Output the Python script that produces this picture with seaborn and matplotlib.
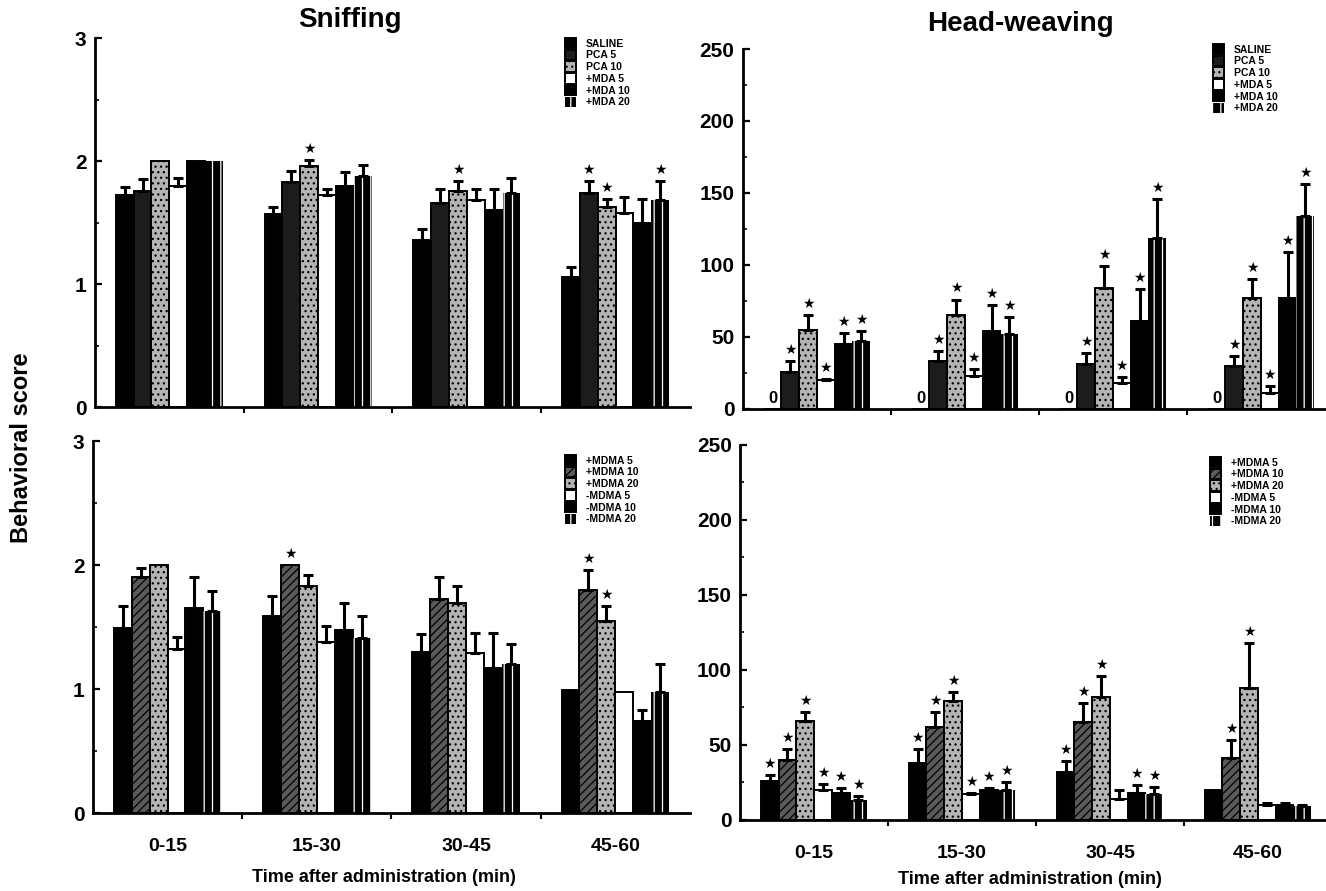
import numpy as np
import pandas as pd
import matplotlib.pyplot as plt
import seaborn as sns
from matplotlib.ticker import MultipleLocator, FixedLocator

time_bins = ["0-15", "15-30", "30-45", "45-60"]
top_groups = ["SALINE", "PCA 5", "PCA 10", "+MDA 5", "+MDA 10", "+MDA 20"]
bottom_groups = ["+MDMA 5", "+MDMA 10", "+MDMA 20", "-MDMA 5", "-MDMA 10", "-MDMA 20"]

# rows = treatment group, columns = time bin
sniff_top = [[1.72, 1.57, 1.36, 1.06],
             [1.76, 1.83, 1.66, 1.74],
             [2.00, 1.96, 1.76, 1.63],
             [1.80, 1.72, 1.68, 1.58],
             [2.00, 1.80, 1.60, 1.50],
             [2.00, 1.88, 1.74, 1.68]]
sniff_top_err = [[0.07, 0.06, 0.09, 0.08],
                 [0.09, 0.09, 0.11, 0.10],
                 [0.00, 0.05, 0.08, 0.06],
                 [0.06, 0.05, 0.09, 0.13],
                 [0.00, 0.11, 0.17, 0.19],
                 [0.00, 0.09, 0.12, 0.16]]
sniff_top_star = [[0, 0, 0, 0],
                  [0, 0, 0, 1],
                  [0, 1, 1, 1],
                  [0, 0, 0, 0],
                  [0, 0, 0, 0],
                  [0, 0, 0, 1]]

head_top = [[0, 0, 0, 0],
            [26, 33, 31, 30],
            [55, 65, 84, 77],
            [20, 23, 18, 11],
            [45, 54, 61, 77],
            [47, 52, 119, 134]]
head_top_err = [[0, 0, 0, 0],
                [7, 7, 8, 7],
                [10, 11, 15, 13],
                [1, 5, 4, 5],
                [8, 18, 22, 32],
                [7, 12, 27, 22]]
head_top_star = [[0, 0, 0, 0],
                 [1, 1, 1, 1],
                 [1, 1, 1, 1],
                 [1, 1, 1, 1],
                 [1, 1, 1, 1],
                 [1, 1, 1, 1]]

sniff_bot = [[1.49, 1.59, 1.30, 0.99],
             [1.90, 2.00, 1.73, 1.80],
             [2.00, 1.83, 1.69, 1.55],
             [1.32, 1.38, 1.29, 0.98],
             [1.65, 1.48, 1.17, 0.74],
             [1.63, 1.41, 1.20, 0.98]]
sniff_bot_err = [[0.18, 0.16, 0.14, 0.00],
                 [0.08, 0.00, 0.17, 0.16],
                 [0.00, 0.09, 0.14, 0.12],
                 [0.10, 0.13, 0.16, 0.00],
                 [0.25, 0.21, 0.28, 0.09],
                 [0.16, 0.18, 0.16, 0.22]]
sniff_bot_star = [[0, 0, 0, 0],
                  [0, 1, 0, 1],
                  [0, 0, 0, 1],
                  [0, 0, 0, 0],
                  [0, 0, 0, 0],
                  [0, 0, 0, 0]]

head_bot = [[26, 38, 32, 20],
            [40, 62, 65, 41],
            [66, 79, 82, 88],
            [20, 17, 14, 10],
            [18, 20, 18, 10],
            [13, 20, 17, 9]]
head_bot_err = [[4, 9, 7, 0],
                [7, 10, 13, 12],
                [6, 6, 14, 30],
                [4, 1, 6, 1],
                [3, 1, 5, 1],
                [3, 5, 5, 1]]
head_bot_star = [[1, 1, 1, 0],
                 [1, 1, 1, 1],
                 [1, 1, 1, 1],
                 [1, 1, 0, 0],
                 [1, 1, 1, 0],
                 [1, 1, 1, 0]]

sns.set_style("ticks")
plt.rcParams['font.family'] = ['Liberation Sans', 'DejaVu Sans']
plt.rcParams['font.weight'] = 'bold'
plt.rcParams['hatch.linewidth'] = 0.9
for k in ['text.color', 'axes.labelcolor', 'xtick.color', 'ytick.color', 'axes.edgecolor']:
    plt.rcParams[k] = 'black'

# bar looks for the six bar positions
top_styles = [dict(fc="black"), dict(fc="#1c1c1c"), dict(fc="#b4b4b4", hatch="..."),
              dict(fc="white"), dict(fc="black"), dict(fc="black", hatch="||", ec="white")]
bot_styles = [dict(fc="black"), dict(fc="#5a5a5a", hatch="////"), dict(fc="#b4b4b4", hatch="..."),
              dict(fc="white"), dict(fc="black"), dict(fc="black", hatch="||", ec="white")]


def draw_panel(ax, groups, means, errs, stars, styles, ymax, ystep, xmax, zeros=False):
    rows = []
    for g, vals in zip(groups, means):
        for t, v in zip(time_bins, vals):
            rows.append({"time": t, "group": g, "score": v})
    df = pd.DataFrame(rows)
    sns.barplot(data=df, x="time", y="score", hue="group", order=time_bins, hue_order=groups,
                palette=[s["fc"] for s in styles], saturation=1, width=0.72, errorbar=None,
                edgecolor="black", linewidth=1.4, legend=False, ax=ax)
    bar_conts = list(ax.containers)
    handles = [c.patches[0] for c in bar_conts]
    for cont, st, vals, err, star in zip(bar_conts, styles, means, errs, stars):
        for bar, v, e, s in zip(cont.patches, vals, err, star):
            if st.get("hatch"):
                bar.set_hatch(st["hatch"])
            if st.get("ec"):
                bar.set_edgecolor(st["ec"])
                bar.set_linewidth(0)
            xc = bar.get_x() + bar.get_width() / 2
            if e > 0:
                ax.errorbar([xc], [v], yerr=[[0], [e]], fmt="none", ecolor="black",
                            elinewidth=2.2, capsize=3.5, capthick=2.2, zorder=4)
            if s:
                ax.annotate("★", (xc, v + e), xytext=(0, 3), textcoords="offset points",
                            ha="center", va="bottom", fontsize=10, family="DejaVu Sans")
            if zeros and v == 0:
                ax.annotate("0", (xc, 0), xytext=(0, 2), textcoords="offset points",
                            ha="center", va="bottom", fontsize=12, fontweight="bold")
    ax.set_xlim(-0.5, xmax)
    ax.set_ylim(0, ymax)
    ax.yaxis.set_major_locator(MultipleLocator(ystep))
    ax.yaxis.set_minor_locator(MultipleLocator(ystep / 2))
    ax.xaxis.set_minor_locator(FixedLocator([0.5, 1.5, 2.5]))
    ax.tick_params(axis="y", which="major", direction="in", length=5, width=1.6,
                   labelsize=15, pad=6)
    ax.tick_params(axis="y", which="minor", direction="in", length=3, width=1.2)
    ax.tick_params(axis="x", which="major", length=0, labelsize=14, pad=18)
    ax.tick_params(axis="x", which="minor", direction="out", length=4, width=1.5)
    for lbl in ax.get_yticklabels() + ax.get_xticklabels():
        lbl.set_fontweight("bold")
    for sp in ["top", "right"]:
        ax.spines[sp].set_visible(False)
    for sp in ["left", "bottom"]:
        ax.spines[sp].set_linewidth(2)
    ax.set_xlabel("")
    ax.set_ylabel("")
    return handles


fig = plt.figure(figsize=(13.26, 8.91), dpi=100)
ax_tl = fig.add_axes([0.0716, 0.5432, 0.4487, 0.4141])
ax_tr = fig.add_axes([0.5603, 0.5410, 0.4397, 0.4040])
ax_bl = fig.add_axes([0.0701, 0.0875, 0.4502, 0.4175])
ax_br = fig.add_axes([0.5581, 0.0797, 0.4419, 0.4209])

h_tl = draw_panel(ax_tl, top_groups, sniff_top, sniff_top_err, sniff_top_star, top_styles, 3, 1, 3.5)
h_tr = draw_panel(ax_tr, top_groups, head_top, head_top_err, head_top_star, top_styles, 250, 50, 3.44,
                  zeros=True)
h_bl = draw_panel(ax_bl, bottom_groups, sniff_bot, sniff_bot_err, sniff_bot_star, bot_styles, 3, 1, 3.5)
h_br = draw_panel(ax_br, bottom_groups, head_bot, head_bot_err, head_bot_star, bot_styles, 250, 50, 3.46)

for ax in [ax_tl, ax_tr]:
    ax.tick_params(axis="x", which="major", labelbottom=False)

leg_kw = dict(loc="upper left", bbox_transform=fig.transFigure, frameon=False,
              prop={"size": 7.5, "weight": "bold"}, handlelength=1.1, handleheight=1.15,
              labelspacing=0.1, handletextpad=0.9, borderaxespad=0, borderpad=0)
ax_tl.legend(h_tl, top_groups, bbox_to_anchor=(565 / 1326, 1 - 38 / 891), **leg_kw)
ax_tr.legend(h_tr, top_groups, bbox_to_anchor=(1213 / 1326, 1 - 44 / 891), **leg_kw)
ax_bl.legend(h_bl, bottom_groups, bbox_to_anchor=(565 / 1326, 1 - 455 / 891), **leg_kw)
ax_br.legend(h_br, bottom_groups, bbox_to_anchor=(1210 / 1326, 1 - 457 / 891), **leg_kw)

fig.text(350 / 1326, 1 - 20 / 891, "Sniffing", ha="center", va="center", fontsize=20, fontweight="bold")
fig.text(1020 / 1326, 1 - 24 / 891, "Head-weaving", ha="center", va="center", fontsize=20,
         fontweight="bold")
fig.text(22 / 1326, 1 - 448 / 891, "Behavioral score", rotation=90, ha="center", va="center",
         fontsize=17, fontweight="bold")
fig.text(384 / 1326, 1 - 877 / 891, "Time after administration (min)", ha="center", va="center",
         fontsize=13, fontweight="bold")
fig.text(1030 / 1326, 1 - 879 / 891, "Time after administration (min)", ha="center", va="center",
         fontsize=13, fontweight="bold")

fig.savefig("out.png", dpi=100)
